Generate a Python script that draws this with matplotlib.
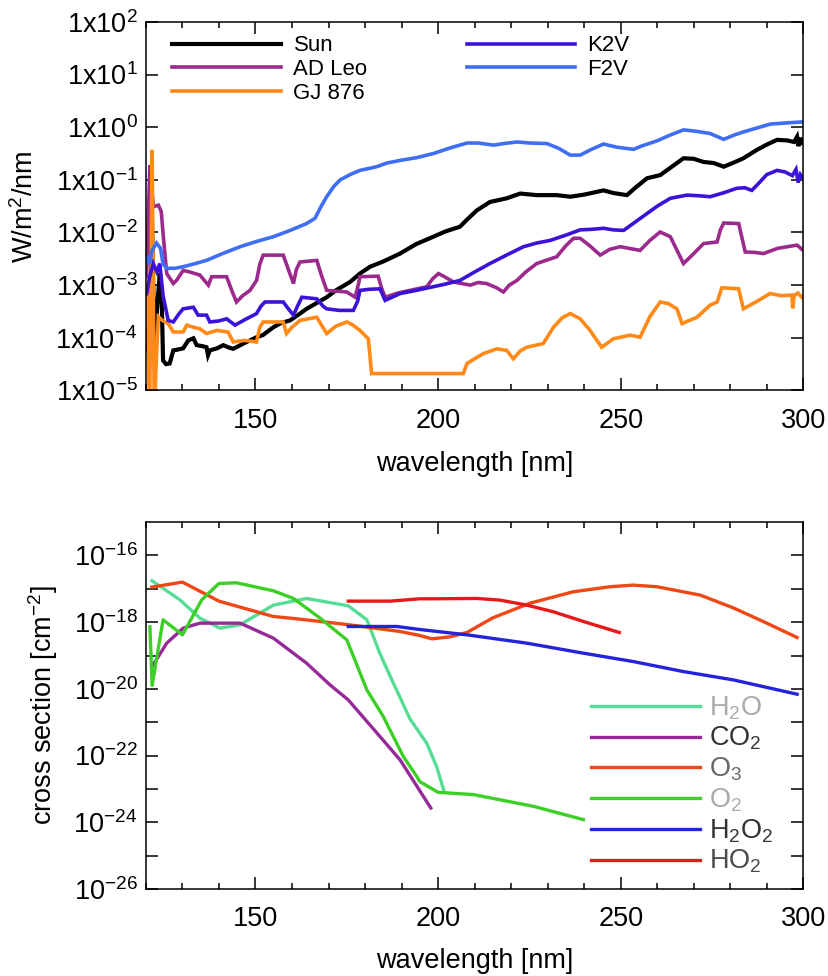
import numpy as np
import matplotlib
matplotlib.use('Agg')
import matplotlib.pyplot as plt
from matplotlib.ticker import MultipleLocator, FixedLocator, FuncFormatter, NullLocator

plt.rcParams['font.family'] = ['Liberation Sans', 'DejaVu Sans']
plt.rcParams['mathtext.fontset'] = 'custom'
plt.rcParams['mathtext.rm'] = 'Liberation Sans'
plt.rcParams['mathtext.it'] = 'Liberation Sans:italic'
plt.rcParams['mathtext.default'] = 'regular'

# ---- stellar spectra (log10 of W/m^2/nm) ----
sun_wl = [120.2, 120.8, 121.2, 121.6, 122.0, 122.5, 123.0, 123.8, 124.3, 124.7, 125.5,
          126.5, 127.5, 129, 130.2, 131.6, 133, 133.9, 135.5, 136.6, 137, 137.5, 139.5,
          141.2, 142.5, 143.9, 147, 150.3, 152, 154.9, 157, 159.5, 162, 164, 166.5,
          169.5, 172, 175.9, 178.6, 181.4, 185, 189.6, 194, 198.7, 202, 206, 208, 210.6,
          214.2, 218.8, 222.5, 227, 232.5, 236.2, 240, 245.3, 248, 251.7, 254, 257.2,
          260.8, 264, 267.2, 270, 272.7, 275.5, 278.2, 281, 283.6, 287.3, 290, 292.8,
          295.5, 297.5, 298.3, 298.7, 299.2, 299.6]
sun_log = [-4.24, -3.4, -4.0, -1.58, -3.0, -4.43, -3.5, -2.78, -3.2, -4.43, -4.5,
           -4.49, -4.24, -4.22, -4.2, -4.05, -4.01, -4.14, -4.16, -4.18, -4.33, -4.24, -4.2,
           -4.14, -4.18, -4.21, -4.1, -3.99, -3.95, -3.8, -3.72, -3.67, -3.55, -3.45, -3.35,
           -3.23, -3.1, -2.94, -2.78, -2.65, -2.55, -2.4, -2.22, -2.08, -1.98, -1.89, -1.75, -1.58,
           -1.42, -1.35, -1.26, -1.29, -1.29, -1.32, -1.28, -1.2, -1.25, -1.29, -1.15, -0.97,
           -0.91, -0.75, -0.59, -0.6, -0.66, -0.68, -0.75, -0.67, -0.59, -0.43, -0.33, -0.24,
           -0.25, -0.28, -0.18, -0.36, -0.2, -0.3]

adleo_wl = [120.2, 120.6, 121.1, 121.6, 122.1, 123.4, 124.2, 124.7, 125.7, 127.5, 128.5,
            130.2, 132, 134.8, 137.1, 138, 142.1, 143.5, 144.8, 146.5, 148.5, 150.3, 151.2,
            152.1, 157.6, 159, 160.4, 161.2, 162.2, 166.8, 168, 169.5, 175, 177.3, 178.3,
            178.6, 183.6, 184.5, 185.5, 189, 192.3, 196.9, 198.5, 200.1, 202, 204.2, 208.8,
            211, 213.3, 216, 217.9, 219.5, 221.6, 224, 227, 232.5, 235, 237.1, 238.9, 241.5,
            244.4, 247, 249.9, 255.3, 258, 260.8, 263.6, 265.5, 267.2, 270, 272.7, 276.4,
            277.3, 278.2, 282.3, 283.2, 284.1, 287, 289.1, 293, 298.3, 299.6]
adleo_log = [-2.84, -1.8, -0.72, -1.2, -1.51, -1.48, -1.6, -2.02, -2.78, -2.97, -2.9,
             -2.72, -2.75, -2.81, -3.0, -2.84, -2.84, -3.1, -3.32, -3.2, -3.1, -2.91, -2.6,
             -2.43, -2.43, -2.7, -2.97, -2.7, -2.56, -2.53, -2.8, -3.1, -3.13, -3.23, -2.95,
             -2.84, -2.83, -3.05, -3.23, -3.15, -3.1, -3.03, -2.88, -2.78, -2.85, -2.94, -3.0,
             -2.95, -2.97, -3.05, -3.13, -3.0, -2.91, -2.75, -2.59, -2.46, -2.25, -2.11, -2.11, -2.25,
             -2.43, -2.32, -2.27, -2.34, -2.15, -1.99, -2.08, -2.35, -2.59, -2.4, -2.21, -2.18,
             -1.95, -1.82, -1.83, -2.1, -2.37, -2.38, -2.4, -2.3, -2.24, -2.32]

gj876_wl = [120.2, 120.6, 121.0, 121.3, 121.7, 122.0, 122.3, 122.8, 123.4, 124.5, 126.1,
            127.5, 130.2, 131.2, 133, 134.8, 136.6, 139.4, 142.5, 143.9, 147, 150.3, 151.2,
            152.1, 157.6, 158.5, 160, 162.2, 166.8, 168, 169.5, 172, 175, 176.5, 178.6, 180.9,
            181.8, 206.9, 207.9, 210, 212.4, 216.1, 218.8, 220.6, 222.5, 224.3, 228.8, 231.6,
            234, 236.2, 238.9, 241.5, 243, 244.8, 248, 252.6, 255.3, 258, 260.8, 263, 265.4,
            266.8, 270.9, 274.5, 276.4, 277.7, 282.3, 283.6, 287, 290.9, 294, 296.9, 297.1,
            297.5, 298.5, 299.6]
gj876_log = [-3.0, -4.0, -5.5, -3.5, -0.43, -3.0, -5.5, -4.5, -3.6, -3.67, -3.73,
             -3.89, -3.89, -3.76, -3.8, -3.83, -3.92, -3.86, -3.89, -4.08, -4.05, -4.08, -3.8,
             -3.7, -3.7, -3.92, -3.8, -3.67, -3.61, -3.75, -3.92, -3.78, -3.7, -3.75, -3.86, -4.02,
             -4.68, -4.68, -4.49, -4.4, -4.3, -4.21, -4.24, -4.4, -4.25, -4.18, -4.11, -3.8,
             -3.62, -3.54, -3.64, -3.85, -4.0, -4.18, -4.02, -3.95, -3.99, -3.6, -3.32, -3.35, -3.45,
             -3.73, -3.61, -3.38, -3.32, -3.05, -3.07, -3.45, -3.32, -3.16, -3.2, -3.19, -3.44,
             -3.2, -3.15, -3.23]

k2v_wl = [120.2, 121.0, 122.0, 123.0, 123.8, 124.7, 126.1, 127.5, 129, 130.2, 133, 134.3,
          136.6, 137.5, 140, 142.1, 144.4, 147, 150.3, 151.5, 152.6, 157.6, 159, 160.4, 161.5,
          162.7, 166.8, 168.5, 169.5, 173, 176.8, 178, 178.6, 181, 184.1, 185.5, 189.6, 194,
          198.7, 202, 206, 210, 214.2, 219, 223.4, 227, 230.7, 235, 238.9, 242, 245.3, 248,
          250.8, 254, 257.2, 260, 263.6, 268.1, 271, 274.5, 278, 281.8, 284, 285.9, 288, 290,
          292.8, 295, 297, 298, 298.6, 299.2, 299.6]
k2v_log = [-3.16, -2.85, -2.59, -2.75, -2.59, -3.2, -3.67, -3.7, -3.55, -3.45, -3.42, -3.57,
           -3.57, -3.7, -3.68, -3.64, -3.76, -3.66, -3.54, -3.4, -3.32, -3.32, -3.45, -3.57, -3.4,
           -3.23, -3.26, -3.4, -3.45, -3.48, -3.48, -3.3, -3.1, -3.08, -3.07, -3.29, -3.16, -3.1,
           -3.03, -2.98, -2.91, -2.75, -2.59, -2.42, -2.27, -2.2, -2.15, -2.05, -1.95, -1.94, -1.92, -1.95,
           -1.96, -1.8, -1.64, -1.5, -1.35, -1.29, -1.3, -1.32, -1.25, -1.16, -1.15, -1.2, -1.05, -0.9,
           -0.82, -0.85, -0.92, -0.8, -1.05, -0.9, -0.94]

f2v_wl = [120.2, 121.0, 121.6, 122.9, 124.0, 124.7, 125.7, 128, 130.2, 133, 136.6, 141,
          145.8, 150.3, 154.9, 159.5, 164, 166.3, 168, 169.5, 171.5, 173.2, 175.9, 178.6,
          183.2, 186, 189.6, 194, 198.7, 203, 207.9, 211, 215.2, 218, 221.6, 225, 229.8, 233,
          236.2, 238.9, 242, 245.3, 249, 253.5, 256, 259.9, 263.5, 267.2, 271, 274.5, 278.2,
          281, 283.6, 287, 291, 295, 299.6]
f2v_log = [-2.46, -2.6, -2.35, -2.2, -2.3, -2.6, -2.68, -2.68, -2.65, -2.6, -2.53, -2.4,
           -2.27, -2.17, -2.08, -1.96, -1.83, -1.73, -1.5, -1.32, -1.12, -1.0, -0.9, -0.82,
           -0.75, -0.68, -0.63, -0.58, -0.5, -0.4, -0.3, -0.3, -0.34, -0.31, -0.28, -0.3, -0.31, -0.4,
           -0.53, -0.53, -0.42, -0.32, -0.38, -0.42, -0.35, -0.26, -0.15, -0.05, -0.08, -0.12, -0.23,
           -0.15, -0.09, -0.02, 0.06, 0.08, 0.1]

star_names = ['Sun', 'AD Leo', 'GJ 876', 'K2V', 'F2V']
star_colors = ['black', '#9b2a8c', '#ff8a17', '#3a12d8', '#3f6ef2']

# ---- cross sections (log10 of cm^-2) ----
h2o_wl = [121.7, 129.3, 134.8, 140.3, 145.8, 154.9, 164, 175.4, 180.5, 184, 186.8, 192.3,
          196.9, 199.6, 201.5]
h2o_log = [-16.76, -17.33, -17.88, -18.18, -18.08, -17.49, -17.29, -17.51, -17.93, -18.92,
           -19.6, -20.9, -21.63, -22.33, -23.02]

co2_wl = [121.7, 125.7, 130.2, 134.8, 145.8, 154.9, 164, 170.4, 175.4, 184.1, 189.6, 198]
co2_log = [-19.33, -18.63, -18.18, -18.03, -18.03, -18.48, -19.23, -19.88, -20.33, -21.43,
           -22.13, -23.57]

o3_wl = [121.6, 130, 140, 145.8, 154.9, 161.3, 175, 189.6, 195, 198.3, 203.3, 207.9, 215,
         225.2, 237, 247, 253.4, 260, 271.8, 281, 290, 298.3]
o3_log = [-16.95, -16.8, -17.37, -17.55, -17.83, -17.9, -18.07, -18.28, -18.4, -18.5, -18.44,
          -18.31, -17.87, -17.43, -17.09, -16.94, -16.89, -16.94, -17.19, -17.58, -18.03, -18.46]

o2_wl = [121.1, 121.7, 124.7, 130, 135.3, 140, 144.8, 154.9, 160.4, 167.7, 175, 180.5, 185,
         190.5, 194.2, 195, 200, 209.7, 226.1, 239.8]
o2_log = [-18.14, -19.9, -17.93, -18.38, -17.33, -16.84, -16.82, -17.06, -17.29, -17.88,
          -18.53, -20.03, -20.83, -22.03, -22.63, -22.78, -23.1, -23.17, -23.52, -23.92]

h2o2_wl = [175.4, 188.7, 195, 207.9, 224.3, 239.8, 253.4, 267.1, 280.8, 298.3]
h2o2_log = [-18.13, -18.13, -18.22, -18.38, -18.63, -18.93, -19.18, -19.48, -19.73, -20.16]

ho2_wl = [175.4, 186.8, 195, 198.7, 210.6, 217, 224.3, 231.6, 239.8, 249.6]
ho2_log = [-17.37, -17.37, -17.3, -17.3, -17.29, -17.34, -17.49, -17.69, -17.98, -18.31]

mol_names = ['H$_2$O', 'CO$_2$', 'O$_3$', 'O$_2$', 'H$_2$O$_2$', 'HO$_2$']
mol_colors = ['#55dd96', '#952a98', '#ee4816', '#3ccf25', '#2323d9', '#e6181a']
mol_text_colors = ['#aaaaaa', '#333333', '#666666', '#aaaaaa', '#333333', '#4a4a4a']

fs = 19.5

fig = plt.figure(figsize=(8.29, 9.76), dpi=100)


def style_axes(ax):
    ax.set_xlim(120, 300)
    ax.xaxis.set_major_locator(MultipleLocator(50))
    ax.xaxis.set_minor_locator(MultipleLocator(10))
    ax.tick_params(which='both', direction='in', top=True, right=True,
                   labelsize=fs, width=1.1)
    ax.tick_params(which='major', length=8.5)
    ax.tick_params(which='minor', length=4.5)
    ax.tick_params(axis='y', which='minor', length=0)
    for sp in ax.spines.values():
        sp.set_linewidth(1.1)


# Top: stellar spectra
ax1 = fig.add_axes([0.176, 0.6, 0.793, 0.3775])
star_wl = [sun_wl, adleo_wl, gj876_wl, k2v_wl, f2v_wl]
star_log = [sun_log, adleo_log, gj876_log, k2v_log, f2v_log]
for wl, lg, name, c in zip(star_wl, star_log, star_names, star_colors):
    lw = 3.0 if name == 'Sun' else 2.6
    ax1.plot(wl, 10 ** np.array(lg), color=c, lw=lw, label=name,
             solid_joinstyle='miter')
ax1.set_yscale('log')
ax1.set_ylim(1e-5, 1e2)
style_axes(ax1)
ax1.yaxis.set_major_locator(FixedLocator(10.0 ** np.arange(-5, 3)))
ax1.yaxis.set_minor_locator(NullLocator())
ax1.yaxis.set_major_formatter(
    FuncFormatter(lambda v, p: '1x10$^{%d}$' % int(round(np.log10(v)))))
ax1.tick_params(axis='y', pad=6)
ax1.tick_params(axis='x', pad=13)
ax1.set_xlabel('wavelength [nm]', fontsize=fs, labelpad=12)
ax1.set_ylabel('W/m$^2$/nm', fontsize=fs, labelpad=12)
ax1.legend(ncol=2, loc='upper left', fontsize=16, frameon=False,
           handlelength=4.9, handletextpad=0.55, columnspacing=4.45,
           labelspacing=0.12, borderaxespad=0.2, bbox_to_anchor=(0.02, 1.0))

# Bottom: cross sections
ax2 = fig.add_axes([0.176, 0.0891, 0.793, 0.376])
mol_wl = [h2o_wl, co2_wl, o3_wl, o2_wl, h2o2_wl, ho2_wl]
mol_log = [h2o_log, co2_log, o3_log, o2_log, h2o2_log, ho2_log]
for wl, lg, name, c in zip(mol_wl, mol_log, mol_names, mol_colors):
    ax2.plot(wl, 10 ** np.array(lg), color=c, lw=2.4, label=name)
ax2.set_yscale('log')
ax2.set_ylim(1e-26, 1e-15)
style_axes(ax2)
ax2.yaxis.set_major_locator(FixedLocator(10.0 ** np.arange(-26, -15)))
ax2.yaxis.set_minor_locator(NullLocator())
ax2.yaxis.set_major_formatter(
    FuncFormatter(lambda v, p: '10$^{%d}$' % int(round(np.log10(v)))
                  if int(round(np.log10(v))) % 2 == 0 else ''))
ax2.tick_params(axis='y', pad=6)
ax2.tick_params(axis='x', pad=12)
ax2.set_xlabel('wavelength [nm]', fontsize=fs, labelpad=12)
ax2.set_ylabel('cross section [cm$^{-2}$]', fontsize=fs, labelpad=10)
ax2.legend(loc='lower right', fontsize=fs, frameon=False, labelcolor=mol_text_colors,
           handlelength=4.0, handletextpad=0.35, labelspacing=0.12,
           borderaxespad=0.1, bbox_to_anchor=(0.975, 0.0))

fig.savefig('out.png', dpi=100)
